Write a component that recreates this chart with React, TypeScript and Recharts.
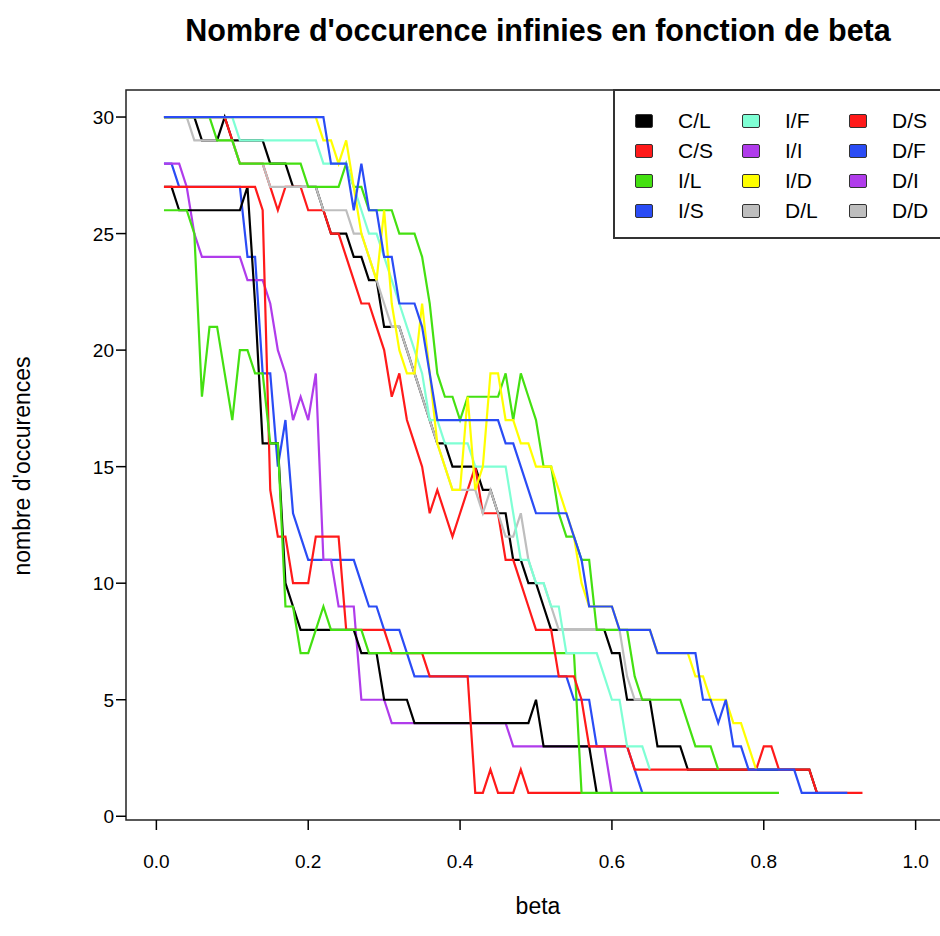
import React from 'react';
import { LineChart, Line, XAxis, YAxis, ReferenceArea } from 'recharts';

// ---------- data: [beta, nombre d'occurences] ----------
const C_L: number[][] = [[0.01,27],[0.02,27],[0.03,26],[0.11,26],[0.12,27],[0.13,22],[0.14,16],[0.16,16],[0.17,10],[0.18,9],[0.19,8],[0.26,8],[0.27,7],[0.29,7],[0.30,5],[0.33,5],[0.34,4],[0.49,4],[0.50,5],[0.51,3],[0.57,3],[0.58,1]];
const C_S: number[][] = [[0.01,27],[0.13,27],[0.14,26],[0.15,14],[0.16,12],[0.17,12],[0.18,10],[0.20,10],[0.21,12],[0.24,12],[0.25,8],[0.30,8],[0.31,7],[0.35,7],[0.36,6],[0.41,6],[0.42,1],[0.43,1],[0.44,2],[0.45,1],[0.47,1],[0.48,2],[0.49,1],[0.56,1]];
const I_L: number[][] = [[0.01,26],[0.04,26],[0.05,25],[0.06,18],[0.07,21],[0.08,21],[0.09,19],[0.10,17],[0.11,20],[0.12,20],[0.13,19],[0.14,19],[0.15,16],[0.16,16],[0.17,9],[0.18,9],[0.19,7],[0.20,7],[0.21,8],[0.22,9],[0.23,8],[0.27,8],[0.28,7],[0.55,7],[0.56,1],[0.82,1]];
const I_S: number[][] = [[0.01,28],[0.02,28],[0.03,27],[0.11,27],[0.12,24],[0.13,24],[0.14,19],[0.15,19],[0.16,15],[0.17,17],[0.18,13],[0.19,12],[0.20,11],[0.26,11],[0.27,10],[0.28,9],[0.29,9],[0.30,8],[0.32,8],[0.33,7],[0.34,6],[0.54,6],[0.55,5],[0.57,5],[0.58,3],[0.62,3],[0.63,2],[0.64,1]];
const I_I: number[][] = [[0.01,28],[0.03,28],[0.04,27],[0.05,25],[0.06,24],[0.11,24],[0.12,23],[0.14,23],[0.15,22],[0.16,20],[0.17,19],[0.18,17],[0.19,18],[0.20,17],[0.21,19],[0.22,11],[0.23,11],[0.24,9],[0.26,9],[0.27,5],[0.30,5],[0.31,4],[0.46,4],[0.47,3],[0.59,3],[0.60,1]];
const I_F: number[][] = [[0.01,30],[0.10,30],[0.11,29],[0.21,29],[0.22,28],[0.25,28],[0.26,27],[0.27,26],[0.28,25],[0.29,25],[0.30,24],[0.31,23],[0.32,22],[0.33,21],[0.34,20],[0.35,19],[0.36,17],[0.37,17],[0.38,16],[0.41,16],[0.42,15],[0.46,15],[0.47,13],[0.48,11],[0.49,11],[0.50,10],[0.51,10],[0.52,9],[0.53,9],[0.54,7],[0.58,7],[0.59,6],[0.60,5],[0.61,5],[0.62,3],[0.64,3],[0.65,2]];
const I_D: number[][] = [[0.01,30],[0.21,30],[0.22,29],[0.23,29],[0.24,28],[0.25,29],[0.26,27],[0.27,25],[0.28,24],[0.29,23],[0.30,26],[0.31,22],[0.32,20],[0.33,19],[0.34,19],[0.35,22],[0.36,19],[0.37,16],[0.38,15],[0.39,14],[0.40,14],[0.41,18],[0.42,14],[0.43,15],[0.44,19],[0.45,19],[0.46,17],[0.47,17],[0.48,16],[0.49,16],[0.50,15],[0.52,15],[0.53,14],[0.54,13],[0.55,12],[0.56,10],[0.57,9],[0.60,9],[0.61,8],[0.65,8],[0.66,7],[0.70,7],[0.71,6],[0.72,6],[0.73,5],[0.75,5],[0.76,4],[0.77,4],[0.78,3],[0.79,2]];
const D_L: number[][] = [[0.01,30],[0.04,30],[0.05,29],[0.10,29],[0.11,28],[0.14,28],[0.15,27],[0.21,27],[0.22,26],[0.25,26],[0.26,25],[0.27,25],[0.28,24],[0.29,23],[0.30,22],[0.31,21],[0.32,21],[0.33,20],[0.34,19],[0.35,18],[0.36,17],[0.37,16],[0.38,15],[0.39,14],[0.42,14],[0.43,13],[0.44,14],[0.45,13],[0.46,12],[0.47,12],[0.48,13],[0.49,11],[0.50,10],[0.51,10],[0.52,9],[0.53,8],[0.61,8],[0.62,6],[0.63,5],[0.64,5]];
const D_S: number[][] = [[0.01,30],[0.05,30],[0.06,29],[0.08,29],[0.09,30],[0.10,29],[0.14,29],[0.15,28],[0.17,28],[0.18,27],[0.21,27],[0.22,26],[0.23,25],[0.25,25],[0.26,24],[0.27,24],[0.28,23],[0.29,23],[0.30,21],[0.32,21],[0.33,20],[0.34,19],[0.35,18],[0.36,17],[0.37,16],[0.38,16],[0.39,15],[0.42,15],[0.43,14],[0.44,14],[0.45,13],[0.46,13],[0.47,11],[0.48,11],[0.49,10],[0.50,10],[0.51,9],[0.52,8],[0.59,8],[0.60,7],[0.61,7],[0.62,5],[0.65,5],[0.66,3],[0.69,3],[0.70,2],[0.86,2],[0.87,1]];
const D_F: number[][] = [[0.01,30],[0.09,30],[0.10,29],[0.11,28],[0.14,28],[0.15,27],[0.16,26],[0.17,27],[0.19,27],[0.20,26],[0.22,26],[0.23,25],[0.24,25],[0.25,24],[0.26,23],[0.27,22],[0.28,22],[0.29,21],[0.30,20],[0.31,18],[0.32,19],[0.33,17],[0.34,16],[0.35,15],[0.36,13],[0.37,14],[0.38,13],[0.39,12],[0.40,13],[0.41,14],[0.42,15],[0.43,13],[0.45,13],[0.46,11],[0.47,11],[0.48,10],[0.49,9],[0.50,8],[0.52,8],[0.53,6],[0.55,6],[0.56,5],[0.57,3],[0.62,3],[0.63,2],[0.79,2],[0.80,3],[0.81,3],[0.82,2],[0.86,2],[0.87,1],[0.93,1]];
const D_I: number[][] = [[0.01,30],[0.07,30],[0.08,29],[0.10,29],[0.11,28],[0.19,28],[0.20,27],[0.24,27],[0.25,28],[0.26,27],[0.27,27],[0.28,26],[0.31,26],[0.32,25],[0.34,25],[0.35,24],[0.36,22],[0.37,19],[0.38,18],[0.39,18],[0.40,17],[0.41,18],[0.45,18],[0.46,19],[0.47,17],[0.48,19],[0.49,18],[0.50,17],[0.51,15],[0.52,15],[0.53,13],[0.54,12],[0.55,12],[0.56,11],[0.57,11],[0.58,8],[0.62,8],[0.63,6],[0.64,5],[0.69,5],[0.70,4],[0.71,3],[0.73,3],[0.74,2]];
const D_D: number[][] = [[0.01,30],[0.22,30],[0.23,28],[0.25,28],[0.26,26],[0.27,28],[0.28,26],[0.29,26],[0.30,24],[0.31,24],[0.32,22],[0.34,22],[0.35,21],[0.36,19],[0.37,17],[0.45,17],[0.46,16],[0.47,16],[0.48,15],[0.49,14],[0.50,13],[0.54,13],[0.55,12],[0.56,11],[0.57,9],[0.60,9],[0.61,8],[0.65,8],[0.66,7],[0.71,7],[0.72,5],[0.73,5],[0.74,4],[0.75,5],[0.76,3],[0.77,3],[0.78,2],[0.84,2],[0.85,1],[0.91,1]];

const X_TICKS = [0, 0.2, 0.4, 0.6, 0.8, 1.0];
const Y_TICKS = [0, 5, 10, 15, 20, 25, 30];
const LEGEND_NAMES = ['C/L', 'C/S', 'I/L', 'I/S', 'I/F', 'I/I', 'I/D', 'D/L', 'D/S', 'D/F', 'D/I', 'D/D'];

// ---------- styles ----------
const BLACK = '#000000';
const RED = '#ff1a1a';
const GREEN = '#44e011';
const BLUE = '#2a4cf5';
const AQUA = '#7fffd4';
const PURPLE = '#b03ceb';
const YELLOW = '#ffff00';
const GRAY = '#bebebe';
const LEGEND_COLORS = [BLACK, RED, GREEN, BLUE, AQUA, PURPLE, YELLOW, GRAY, RED, BLUE, PURPLE, GRAY];

// drawing order (first = bottom)
const SERIES = [
  { name: 'I/S', data: I_S, color: BLUE },
  { name: 'I/I', data: I_I, color: PURPLE },
  { name: 'C/L', data: C_L, color: BLACK },
  { name: 'C/S', data: C_S, color: RED },
  { name: 'I/L', data: I_L, color: GREEN },
  { name: 'D/S', data: D_S, color: BLACK },
  { name: 'D/F', data: D_F, color: RED },
  { name: 'D/L', data: D_L, color: GRAY },
  { name: 'D/I', data: D_I, color: GREEN },
  { name: 'I/F', data: I_F, color: AQUA },
  { name: 'I/D', data: I_D, color: YELLOW },
  { name: 'D/D', data: D_D, color: BLUE },
];

const FONT = '"Liberation Sans", Arial, Helvetica, sans-serif';

const XTick = (props: any) => {
  const { x, y, payload } = props;
  return (
    <text x={x} y={y} dy={36} textAnchor="middle" fontSize={19} fontFamily={FONT} fill="#000">
      {Number(payload.value).toFixed(1)}
    </text>
  );
};

const YTick = (props: any) => {
  const { x, y, payload } = props;
  return (
    <text x={x} y={y} dx={0} dy={7} textAnchor="end" fontSize={19} fontFamily={FONT} fill="#000">
      {payload.value}
    </text>
  );
};

export default function App() {
  const rows = [0, 1, 2, 3];
  const cols = [0, 1, 2];
  return (
    <div style={{ position: 'absolute', left: 0, top: 0, width: 940, height: 936, overflow: 'hidden', background: '#fff', fontFamily: FONT }}>
      <LineChart width={960} height={936} margin={{ top: 90, right: 14, bottom: 86, left: 66 }}>
        <XAxis
          type="number"
          dataKey="x"
          domain={[-0.04, 1.04]}
          ticks={X_TICKS}
          allowDataOverflow
          axisLine={false}
          tickLine={{ stroke: '#000', strokeWidth: 1.5 }}
          tickSize={10}
          height={30}
          tick={<XTick />}
          interval={0}
        />
        <YAxis
          type="number"
          dataKey="y"
          domain={[-0.16, 31.16]}
          ticks={Y_TICKS}
          allowDataOverflow
          axisLine={false}
          tickLine={{ stroke: '#000', strokeWidth: 1.5 }}
          tickSize={10}
          width={60}
          tick={<YTick />}
          interval={0}
        />
        <ReferenceArea x1={-0.04} x2={1.04} y1={-0.16} y2={31.16} fill="none" stroke="#222" strokeWidth={1.5} ifOverflow="visible" />
        {SERIES.map((s) => (
          <Line
            key={s.name + s.color}
            data={s.data.map(([x, y]) => ({ x, y }))}
            dataKey="y"
            type="linear"
            stroke={s.color}
            strokeWidth={2.2}
            dot={false}
            activeDot={false}
            isAnimationActive={false}
          />
        ))}
      </LineChart>

      <div style={{ position: 'absolute', left: 128, width: 820, top: 12, textAlign: 'center', fontWeight: 'bold', fontSize: 30.5, lineHeight: '36px', color: '#000' }}>
        Nombre d'occurence infinies en fonction de beta
      </div>
      <div style={{ position: 'absolute', left: 128, width: 820, top: 892, textAlign: 'center', fontSize: 23, lineHeight: '28px' }}>
        beta
      </div>
      <div style={{ position: 'absolute', left: 22, top: 466, width: 0, height: 0 }}>
        <div style={{ position: 'absolute', transform: 'translate(-50%, -50%) rotate(-90deg)', whiteSpace: 'nowrap', fontSize: 23, lineHeight: '28px' }}>
          nombre d'occurences
        </div>
      </div>

      <div style={{ position: 'absolute', left: 613, top: 89, width: 340, height: 150, background: '#fff', border: '2px solid #333', boxSizing: 'border-box' }}>
        {cols.map((c) =>
          rows.map((r) => {
            const i = c * 4 + r;
            return (
              <div key={i} style={{ position: 'absolute', left: 20 + c * 107, top: 18 + r * 30, height: 24, display: 'flex', alignItems: 'center' }}>
                <div style={{ width: 18, height: 14, background: LEGEND_COLORS[i], border: '1px solid #333', boxSizing: 'border-box', borderRadius: 2 }} />
                <span style={{ marginLeft: 25, fontSize: 21, color: '#000' }}>{LEGEND_NAMES[i]}</span>
              </div>
            );
          })
        )}
      </div>
    </div>
  );
}
